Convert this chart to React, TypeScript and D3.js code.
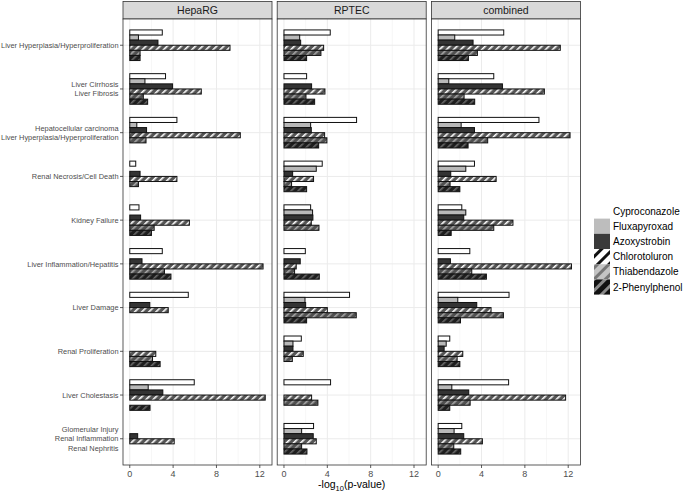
import React from "react";
import * as d3 from "d3";

const categories = [
  "Liver Hyperplasia/Hyperproliferation",
  "Liver Cirrhosis\nLiver Fibrosis",
  "Hepatocellular carcinoma\nLiver Hyperplasia/Hyperproliferation",
  "Renal Necrosis/Cell Death",
  "Kidney Failure",
  "Liver Inflammation/Hepatitis",
  "Liver Damage",
  "Renal Proliferation",
  "Liver Cholestasis",
  "Glomerular Injury\nRenal Inflammation\nRenal Nephritis",
];

const seriesNames = [
  "Cyproconazole",
  "Fluxapyroxad",
  "Azoxystrobin",
  "Chlorotoluron",
  "Thiabendazole",
  "2-Phenylphenol",
];

const facets = ["HepaRG", "RPTEC", "combined"];

// values[series][category]; null = no bar
const hepargValues: (number | null)[][] = [
  [3.0, 3.3, 4.35, 0.55, 0.85, 3.0, 5.4, null, 5.95, null],
  [0.8, 1.4, 0.65, null, null, null, null, null, 1.7, null],
  [2.6, 3.95, 1.55, 0.95, 1.0, 1.13, 1.85, null, 3.05, 0.73],
  [9.25, 6.6, 10.2, 4.35, 5.5, 12.3, 3.55, 2.4, 12.5, 4.1],
  [0.95, 1.25, 1.5, 0.8, 2.25, 3.2, null, 2.1, null, null],
  [0.95, 1.65, null, null, 2.0, 3.8, null, 2.8, 1.87, null],
];

const rptecValues: (number | null)[][] = [
  [4.27, 2.09, 6.7, 3.53, 2.46, 1.97, 6.05, 1.6, 4.3, 2.73],
  [1.45, null, 2.46, 2.98, 2.64, null, 1.94, 0.83, null, 1.63],
  [1.54, 2.55, 2.52, 0.8, 2.67, 1.5, 2.0, 0.83, null, 2.7],
  [3.66, 3.78, 3.75, 2.73, 2.52, 1.13, 4.0, 1.78, 2.55, 2.98],
  [3.41, 2.03, 3.96, 0.7, 3.23, 0.98, 6.67, 0.77, 3.13, 1.63],
  [2.09, 2.83, 3.2, 2.09, null, 3.26, 2.09, null, null, 2.12],
];

const combinedValues: (number | null)[][] = [
  [6.05, 5.13, 9.3, 3.35, 2.18, 2.92, 6.54, 1.07, 6.5, 2.18],
  [1.53, 0.98, 2.12, 2.55, 2.55, null, 1.81, 0.74, 1.26, 1.47],
  [3.22, 5.93, 3.35, 1.16, 2.36, 1.13, 3.56, 0.55, 2.82, 2.36],
  [11.27, 9.8, 12.17, 5.35, 6.9, 12.3, 4.88, 2.27, 11.76, 4.08],
  [3.62, 2.39, 4.57, 1.1, 5.13, 3.1, 6.02, 1.75, 2.95, 1.44],
  [2.79, 3.37, 2.76, 2.0, 1.2, 4.45, 2.06, 2.0, 1.07, 2.08],
];

const xTicks = [0, 4, 8, 12];

const facetValues = [hepargValues, rptecValues, combinedValues];

const W = 685;
const H = 492;
const panelTop = 19;
const panelBottom = 465;
const panelW = 149;
const panelLefts = [123, 277.2, 431.4];
const stripTop = 1.5;

const FONT = "'Liberation Sans', Arial, Helvetica, sans-serif";

const barFill = [
  "#ffffff",
  "#b8b8b8",
  "#333333",
  "url(#pChloro)",
  "url(#pThiab)",
  "url(#pPhen)",
];
const legendFill = [
  "#ffffff",
  "#bdbdbd",
  "#3a3a3a",
  "url(#lChloro)",
  "url(#lThiab)",
  "url(#lPhen)",
];

export default function App() {
  const maxV = 12.5;
  const x = d3
    .scaleLinear()
    .domain([-0.05 * maxV, 1.05 * maxV])
    .range([0, panelW]);
  const y = d3
    .scalePoint<string>()
    .domain(categories)
    .range([panelTop, panelBottom])
    .padding(0.6);
  const step = y.step();
  const inner = d3
    .scaleBand<string>()
    .domain(seriesNames)
    .range([-0.35 * step, 0.35 * step])
    .padding(0);
  const bh = inner.bandwidth();

  const pattern = (
    id: string,
    size: number,
    bg: string,
    fg: string,
    sw: number
  ) => (
    <pattern
      id={id}
      patternUnits="userSpaceOnUse"
      width={size}
      height={size}
      patternTransform="rotate(45)"
    >
      <rect width={size} height={size} fill={bg} />
      <rect x={0} y={0} width={sw} height={size} fill={fg} />
    </pattern>
  );

  return (
    <svg
      width={W}
      height={H}
      style={{ position: "absolute", left: 0, top: 0, background: "#fff" }}
      fontFamily={FONT}
    >
      <defs>
        {pattern("pChloro", 5, "#555555", "#ffffff", 1.6)}
        {pattern("pThiab", 5, "#505050", "#a8a8a8", 1.6)}
        {pattern("pPhen", 5, "#1e1e1e", "#6a6a6a", 1.6)}
        {pattern("lChloro", 8, "#ffffff", "#111111", 3)}
        {pattern("lThiab", 8, "#c4c4c4", "#777777", 3)}
        {pattern("lPhen", 8, "#111111", "#8a8a8a", 3)}
      </defs>
      <rect width={W} height={H} fill="#fff" />

      {facets.map((f, fi) => {
        const left = panelLefts[fi];
        const vals = facetValues[fi];
        return (
          <g key={f}>
            {/* strip */}
            <rect
              x={left}
              y={stripTop}
              width={panelW}
              height={panelTop - stripTop}
              fill="#d9d9d9"
              stroke="#333"
              strokeWidth={0.8}
            />
            <text
              x={left + panelW / 2}
              y={(stripTop + panelTop) / 2 + 3.8}
              textAnchor="middle"
              fontSize={10.5}
              fill="#1a1a1a"
            >
              {f}
            </text>
            {/* panel background and grid */}
            <rect
              x={left}
              y={panelTop}
              width={panelW}
              height={panelBottom - panelTop}
              fill="#fff"
            />
            {[2, 6, 10].map((t) => (
              <line
                key={"m" + t}
                x1={left + x(t)}
                x2={left + x(t)}
                y1={panelTop}
                y2={panelBottom}
                stroke="#f2f2f2"
                strokeWidth={0.6}
              />
            ))}
            {xTicks.map((t) => (
              <line
                key={"g" + t}
                x1={left + x(t)}
                x2={left + x(t)}
                y1={panelTop}
                y2={panelBottom}
                stroke="#ebebeb"
                strokeWidth={1}
              />
            ))}
            {categories.map((c) => (
              <line
                key={"h" + c}
                x1={left}
                x2={left + panelW}
                y1={y(c)}
                y2={y(c)}
                stroke="#ebebeb"
                strokeWidth={1}
              />
            ))}
            {/* bars */}
            {seriesNames.map((s, si) =>
              categories.map((c, ci) => {
                const v = vals[si][ci];
                if (v == null) return null;
                const y0 = (y(c) as number) + (inner(s) as number);
                return (
                  <rect
                    key={s + c}
                    x={left + x(0)}
                    y={y0}
                    width={x(v) - x(0)}
                    height={bh}
                    fill={barFill[si]}
                    stroke="#111"
                    strokeWidth={1}
                  />
                );
              })
            )}
            {/* border */}
            <rect
              x={left}
              y={panelTop}
              width={panelW}
              height={panelBottom - panelTop}
              fill="none"
              stroke="#333"
              strokeWidth={0.8}
            />
            {/* x axis ticks */}
            {xTicks.map((t) => (
              <g key={"t" + t}>
                <line
                  x1={left + x(t)}
                  x2={left + x(t)}
                  y1={panelBottom}
                  y2={panelBottom + 3}
                  stroke="#333"
                  strokeWidth={0.8}
                />
                <text
                  x={left + x(t)}
                  y={panelBottom + 12}
                  textAnchor="middle"
                  fontSize={9}
                  fill="#4d4d4d"
                >
                  {t}
                </text>
              </g>
            ))}
          </g>
        );
      })}

      {/* y axis */}
      {categories.map((c) => {
        const lines = c.split("\n");
        const cy = y(c) as number;
        const lh = 9.4;
        const first = cy - ((lines.length - 1) * lh) / 2;
        return (
          <g key={"y" + c}>
            <line
              x1={panelLefts[0] - 3}
              x2={panelLefts[0]}
              y1={cy}
              y2={cy}
              stroke="#333"
              strokeWidth={0.8}
            />
            <text
              textAnchor="end"
              fontSize={7.4}
              fill="#4d4d4d"
            >
              {lines.map((l, i) => (
                <tspan key={i} x={panelLefts[0] - 4.5} y={first + i * lh + 2.7}>
                  {l}
                </tspan>
              ))}
            </text>
          </g>
        );
      })}

      {/* x title */}
      <text
        x={(panelLefts[0] + panelLefts[2] + panelW) / 2}
        y={488}
        textAnchor="middle"
        fontSize={10.5}
        fill="#000"
      >
        -log
        <tspan fontSize={7.5} dy={3}>
          10
        </tspan>
        <tspan dy={-3}>(p-value)</tspan>
      </text>

      {/* legend */}
      {seriesNames.map((s, i) => {
        const cy = 211 + i * 15.2;
        return (
          <g key={"l" + s}>
            <rect
              x={594}
              y={cy - 7.6}
              width={16}
              height={15.2}
              fill={legendFill[i]}
            />
            <text x={613} y={cy + 3.6} fontSize={10} fill="#000">
              {s}
            </text>
          </g>
        );
      })}
    </svg>
  );
}
